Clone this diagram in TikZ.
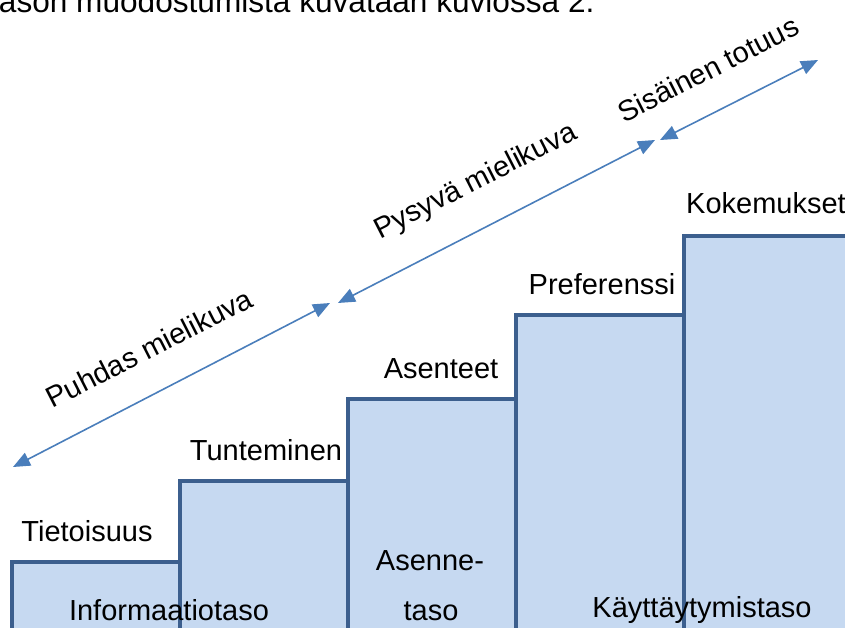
\documentclass[tikz,border=0pt]{standalone}
\usepackage{fontspec}
\setmainfont{Liberation Sans}
\usetikzlibrary{arrows.meta}
\definecolor{stepfill}{HTML}{C6D9F1}
\definecolor{stepline}{HTML}{3C5F8E}
\definecolor{arrowblue}{HTML}{4A7EBB}
\begin{document}
\begin{tikzpicture}[x=1pt,y=-1pt,
  stepbox/.style={draw=stepline, fill=stepfill, line width=4.5pt},
  lbl/.style={font=\fontsize{29}{33}\selectfont, inner sep=0pt, anchor=base},
  rlbl/.style={font=\fontsize{29}{33}\selectfont, inner sep=0pt, anchor=center, rotate=27},
  dimarrow/.style={draw=arrowblue, line width=1.6pt, {Triangle[length=17pt,width=14pt]}-{Triangle[length=17pt,width=14pt]}},
]
\useasboundingbox (0,0) rectangle (845,627);
\clip (0,0) rectangle (845,627);
% top body text (clipped)
\node[font=\fontsize{31.6}{36}\selectfont, inner sep=0pt, anchor=base west] (body) at (-10,12) {tason muodostumista kuvataan kuviossa 2.};
% steps
\draw[stepbox] (12,562) rectangle (180,670);
\draw[stepbox] (180,481) rectangle (348,670);
\draw[stepbox] (348,399) rectangle (516,670);
\draw[stepbox] (516,315) rectangle (684,670);
\draw[stepbox] (684,236) rectangle (880,670);
% step labels
\node[lbl] (tieto) at (87,541) {Tietoisuus};
\node[lbl] (tunte) at (266,460) {Tunteminen};
\node[lbl] (asent) at (441,378) {Asenteet};
\node[lbl] (prefe) at (602,294) {Preferenssi};
\node[lbl] (kokem) at (766,213) {Kokemukset};
\node[lbl] (info) at (169,620) {Informaatiotaso};
\node[lbl] (asen1) at (430,570) {Asenne-};
\node[lbl] (asen2) at (431,620) {taso};
\node[lbl] (kaytt) at (702,617) {Käyttäytymistaso};
% arrows
\coordinate (a1s) at (13,467);
\coordinate (a1e) at (330,303);
\coordinate (a2s) at (338,303);
\coordinate (a2e) at (655,140);
\coordinate (a3s) at (660,140);
\coordinate (a3e) at (818,60);
\draw[dimarrow] (a1s) -- (a1e);
\draw[dimarrow] (a2s) -- (a2e);
\draw[dimarrow] (a3s) -- (a3e);
\node[rlbl] (puhdas) at (149,348) {Puhdas mielikuva};
\node[rlbl] (pysyva) at (476,182) {Pysyvä mielikuva};
\node[rlbl] (sisain) at (708,69) {Sisäinen totuus};
\end{tikzpicture}
\end{document}
